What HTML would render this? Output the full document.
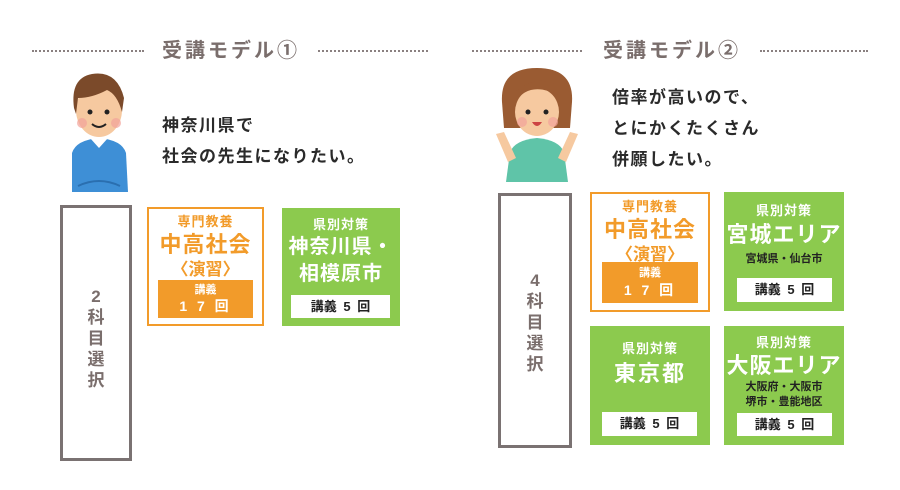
<!DOCTYPE html>
<html><head><meta charset="utf-8"><style>
*{margin:0;padding:0;box-sizing:border-box}
body{width:900px;height:490px;background:#fff;position:relative;overflow:hidden;font-family:"Liberation Sans","Noto Sans CJK JP",sans-serif}
.a{position:absolute}
.dot{position:absolute;height:0;border-top:2px dotted #8a8080}
.title{position:absolute;font-size:20px;color:#7a6e6c;font-weight:bold;letter-spacing:3px;line-height:24px}
.msg{position:absolute;font-size:17px;font-weight:bold;color:#2a2a2a;line-height:31px;letter-spacing:1.5px}
.gray{position:absolute;border:3px solid #7a7272;background:#fff}
.vt{position:absolute;left:0;right:0;text-align:center;color:#7a6e6c;font-size:17px;font-weight:bold;line-height:21px}
.ob{position:absolute;border:2px solid #f29b2a;background:#fff;text-align:center;color:#f29b2a;font-weight:bold}
.gb{position:absolute;background:#8cca4e;text-align:center;color:#fff;font-weight:bold}
.oi{position:absolute;background:#f29b2a;color:#fff;text-align:center}
.wi{position:absolute;background:#fff;color:#222;text-align:center;font-size:13px;font-weight:bold;line-height:24px;word-spacing:3px}
.s13{font-size:13px;line-height:18px;letter-spacing:1px}
.s22{font-size:22px;line-height:28px;letter-spacing:1px}
.sub{font-size:11px;color:#222;line-height:16px}
</style></head><body>

<div class="dot" style="left:32px;top:50px;width:112px"></div>
<div class="dot" style="left:318px;top:50px;width:110px"></div>
<div class="title" style="left:162px;top:39px">受講モデル①</div>
<div class="dot" style="left:472px;top:50px;width:110px"></div>
<div class="dot" style="left:760px;top:50px;width:108px"></div>
<div class="title" style="left:603px;top:39px">受講モデル②</div>

<!-- man -->
<svg class="a" style="left:62px;top:68px" width="75" height="128" viewBox="0 0 75 128">
<path d="M10 85 Q14 72 37 70 Q60 72 64 85 L66 124 L10 124 Z" fill="#3e8fd6"/>
<path d="M28 70 L37 80 L46 70 Z" fill="#fff"/>
<path d="M16 118 Q37 108 58 118" stroke="#2a6fb0" stroke-width="2" fill="none"/>
<ellipse cx="37" cy="42" rx="23" ry="27" fill="#f6c9a0"/>
<path d="M12 40 Q8 10 30 6 Q55 2 62 30 L60 44 Q55 26 45 22 Q30 30 16 30 L14 46 Z" fill="#7b4a2a"/>
<circle cx="28" cy="44" r="2.5" fill="#222"/><circle cx="45" cy="44" r="2.5" fill="#222"/>
<circle cx="20" cy="55" r="5" fill="#f2a39a" opacity=".7"/><circle cx="54" cy="55" r="5" fill="#f2a39a" opacity=".7"/>
<path d="M30 56 Q37 62 44 56" stroke="#222" stroke-width="2" fill="none"/>
</svg>
<div class="msg" style="left:162px;top:110px">神奈川県で<br>社会の先生になりたい。</div>

<!-- woman -->
<svg class="a" style="left:490px;top:62px" width="95" height="122" viewBox="0 0 95 122">
<path d="M20 90 Q25 78 47 76 Q69 78 74 90 L78 120 L16 120 Z" fill="#5fc4a8"/>
<path d="M6 72 L18 100 L26 96 L14 70 Z" fill="#f6c9a0"/>
<path d="M88 72 L76 100 L68 96 L80 70 Z" fill="#f6c9a0"/>
<path d="M12 40 Q10 6 47 6 Q84 6 82 40 L80 66 L14 66 Z" fill="#9a5b32"/>
<ellipse cx="47" cy="50" rx="22" ry="24" fill="#f6c9a0"/>
<path d="M25 40 Q40 18 70 34 L70 26 Q50 10 25 30 Z" fill="#9a5b32"/>
<circle cx="38" cy="50" r="2.5" fill="#222"/><circle cx="56" cy="50" r="2.5" fill="#222"/>
<circle cx="32" cy="60" r="5" fill="#f2a39a" opacity=".7"/><circle cx="63" cy="60" r="5" fill="#f2a39a" opacity=".7"/>
<path d="M42 60 Q47 68 52 60 Z" fill="#c44"/>
</svg>
<div class="msg" style="left:612px;top:82px">倍率が高いので、<br>とにかくたくさん<br>併願したい。</div>

<!-- model 1 -->
<div class="gray" style="left:60px;top:205px;width:72px;height:256px"><div class="vt" style="top:78px">2<br>科<br>目<br>選<br>択</div></div>

<div class="ob" style="left:147px;top:207px;width:117px;height:119px">
<div class="s13" style="margin-top:4px">専門教養</div>
<div class="s22">中高社会</div>
<div style="font-size:17px;line-height:22px">〈演習〉</div>
<div class="oi" style="left:9px;top:71px;width:95px;height:38px"><div style="font-size:11px;line-height:16px;margin-top:2px">講義</div><div style="font-size:14px;line-height:17px;letter-spacing:3px">1 7 回</div></div>
</div>

<div class="gb" style="left:282px;top:208px;width:118px;height:118px">
<div class="s13" style="margin-top:8px">県別対策</div>
<div style="font-size:20px;line-height:27px;letter-spacing:1px">神奈川県・<br>相模原市</div>
<div class="wi" style="left:9px;top:87px;width:99px;height:23px">講義 5 回</div>
</div>

<!-- model 2 -->
<div class="gray" style="left:498px;top:193px;width:74px;height:255px"><div class="vt" style="top:74px">4<br>科<br>目<br>選<br>択</div></div>

<div class="ob" style="left:590px;top:192px;width:120px;height:120px">
<div class="s13" style="margin-top:4px">専門教養</div>
<div class="s22">中高社会</div>
<div style="font-size:17px;line-height:22px">〈演習〉</div>
<div class="oi" style="left:10px;top:68px;width:96px;height:41px"><div style="font-size:11px;line-height:16px;margin-top:3px">講義</div><div style="font-size:14px;line-height:18px;letter-spacing:3px">1 7 回</div></div>
</div>

<div class="gb" style="left:724px;top:192px;width:120px;height:119px">
<div class="s13" style="margin-top:10px">県別対策</div>
<div class="s22" style="line-height:30px">宮城エリア</div>
<div class="sub" style="margin-top:1px">宮城県・仙台市</div>
<div class="wi" style="left:13px;top:86px;width:95px;height:24px">講義 5 回</div>
</div>

<div class="gb" style="left:590px;top:326px;width:120px;height:119px">
<div class="s13" style="margin-top:14px">県別対策</div>
<div class="s22" style="line-height:32px;letter-spacing:2px">東京都</div>
<div class="wi" style="left:12px;top:86px;width:95px;height:24px">講義 5 回</div>
</div>

<div class="gb" style="left:724px;top:326px;width:120px;height:119px">
<div class="s13" style="margin-top:8px">県別対策</div>
<div class="s22" style="line-height:28px">大阪エリア</div>
<div class="sub" style="line-height:15px">大阪府・大阪市<br>堺市・豊能地区</div>
<div class="wi" style="left:13px;top:87px;width:95px;height:23px">講義 5 回</div>
</div>

</body></html>
